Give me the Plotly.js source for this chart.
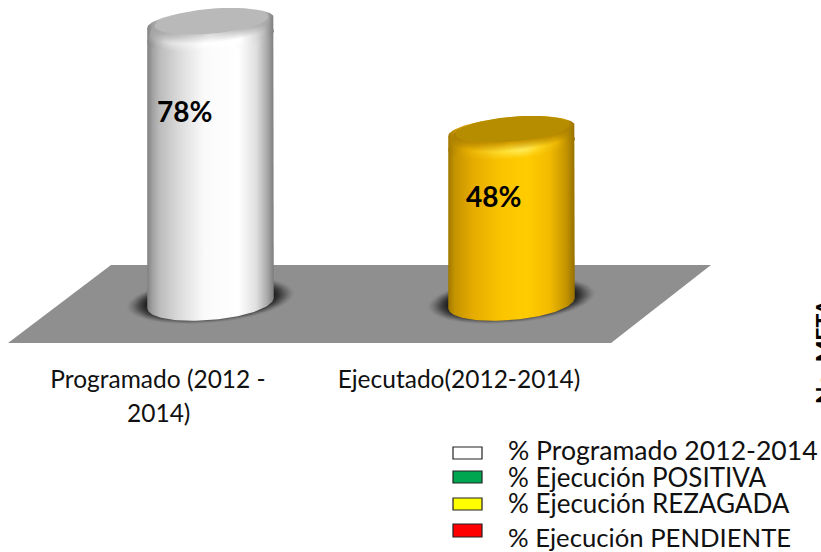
<!DOCTYPE html>
<html><head><meta charset="utf-8">
<script src="https://cdn.plot.ly/plotly-3.0.1.min.js"></script>
<style>html,body{margin:0;padding:0;background:#fff;overflow:hidden}#c{width:821px;height:552px}</style>
</head><body><div id="c"></div>
<script>
const categories = ["Programado (2012 -", "Ejecutado(2012-2014)"];
const categoryWrap = ["2014)", ""];
const percentValues = [78, 48];
const legendLabels = ["% Programado 2012-2014", "% Ejecución POSITIVA", "% Ejecución REZAGADA", "% Ejecución PENDIENTE"];
const legendColors = ["#ffffff", "#00a650", "#ffff00", "#ff0000"];
const axisTitle = "No. META";

const W = 821, H = 552, PLOT_B = 362;
const PX_X = 301, X0 = 158, PX_Y = 3.6, Y0 = 303;
const FONT = "Lato, Carlito, Calibri, sans-serif";

const dataX = px => (px - X0) / PX_X;
const dataY = py => (Y0 - py) / PX_Y;

const bodyStops = [
  [[0,"#808080"],[0.04,"#a0a0a0"],[0.1,"#bcbcbc"],[0.26,"#dcdcdc"],[0.45,"#fafafa"],[0.72,"#ffffff"],[0.86,"#e0e0e0"],[0.95,"#a8a8a8"],[1,"#7c7c7c"]],
  [[0,"#a07800"],[0.05,"#c49300"],[0.2,"#e6ac00"],[0.42,"#fbc400"],[0.62,"#ffcc00"],[0.8,"#f3bb00"],[0.93,"#c49500"],[1,"#967000"]]
];
const ringHi = [
  [[0,"#a0a0a0"],[0.15,"#e0e0e0"],[0.45,"#ffffff"],[0.75,"#ffffff"],[0.92,"#cccccc"],[1,"#8c8c8c"]],
  [[0,"#b08400"],[0.15,"#ecb200"],[0.42,"#ffdf30"],[0.6,"#ffee60"],[0.72,"#ffd820"],[0.88,"#ecb400"],[1,"#a07a00"]]
];
const ringLo = [
  [[0,"#a4a4a4"],[0.5,"#dcdcdc"],[1,"#a8a8a8"]],
  [[0,"#ad8200"],[0.5,"#d8a000"],[1,"#ad8200"]]
];
const capColors = ["#b9b9b9", "#b78d00"];

const TILT = 5 * Math.PI / 180;
function ellipsePts(cx, cy, a, b, t0, t1, n) {
  const xs = [], ys = [];
  for (let i = 0; i <= n; i++) {
    const t = t0 + (t1 - t0) * i / n;
    const ex = a * Math.cos(t), ey = b * Math.sin(t);
    xs.push(cx + ex * Math.cos(TILT) + ey * Math.sin(TILT));
    ys.push(cy - ex * Math.sin(TILT) + ey * Math.cos(TILT));
  }
  return [xs, ys];
}
function poly(pts, style) {
  return Object.assign({
    type: "scatter", mode: "lines", fill: "toself", line: {width: 0},
    x: pts[0].map(dataX), y: pts[1].map(dataY),
    hoverinfo: "skip", showlegend: false
  }, style);
}
const hex = c => [1,3,5].map(i => parseInt(c.substr(i,2),16));
function sample(stops, p) {
  for (let i = 1; i < stops.length; i++) if (p <= stops[i][0]) {
    const q = (p - stops[i-1][0]) / (stops[i][0] - stops[i-1][0]);
    const A = hex(stops[i-1][1]), B = hex(stops[i][1]);
    return A.map((v,k) => v + (B[k]-v)*q);
  }
  return hex(stops[stops.length-1][1]);
}
function blend(s1, s2, q) {
  const out = [];
  for (let i = 0; i <= 16; i++) {
    const p = i/16, A = sample(s1,p), B = sample(s2,p);
    out.push([p, "rgb(" + A.map((v,k)=>Math.round(v+(B[k]-v)*q)).join(",") + ")"]);
  }
  return out;
}
const hgrad = cs => ({fillgradient: {type: "horizontal", colorscale: cs}, fillcolor: "rgba(0,0,0,0)"});

const traces = [];
const CX_OFF = 52.5, A = 63.5;
percentValues.forEach((v, i) => {
  const cx = X0 + PX_X * i + CX_OFF;
  const topY = Y0 - v * PX_Y;
  const S = 18;
  for (let k = 0; k < S; k++) {
    const f = k / (S - 1);
    const e = ellipsePts(cx, Y0 - 3, 84 - 20 * f, 23 - 6 * f, 0, 2*Math.PI, 60);
    traces.push(poly(e, {fillcolor: "rgba(10,10,10," + (0.02 + 0.14 * f).toFixed(3) + ")"}));
  }
  const low = ellipsePts(cx, Y0, A, 17, Math.PI, 0, 60);
  const up = ellipsePts(cx, topY + 0.5, A, 13.5, 0, -Math.PI, 60);
  traces.push(poly([low[0].concat(up[0]), low[1].concat(up[1])], hgrad(bodyStops[i])));
  const N = 18;
  for (let k = 0; k < N; k++) {
    const t = k / (N - 1);
    const cs = t < 0.5 ? blend(bodyStops[i], ringHi[i], t / 0.5) : blend(ringHi[i], ringLo[i], (t - 0.5) / 0.5);
    const e = ellipsePts(cx, topY + 14 * (1 - t) + 0.5, A - 5 * t, 15 - 2.5 * t, 0, 2*Math.PI, 60);
    traces.push(poly(e, hgrad(cs)));
  }
  traces.push(poly(ellipsePts(cx + 1, topY - 1, A - 6.5, 12.5, 0, 2*Math.PI, 60), {fillcolor: capColors[i]}));
});

const layout = {
  width: W, height: H, autosize: false,
  margin: {l: 0, r: 0, t: 0, b: H - PLOT_B, pad: 0},
  paper_bgcolor: "#fff", plot_bgcolor: "rgba(0,0,0,0)",
  showlegend: false,
  xaxis: {
    range: [dataX(0), dataX(W)], fixedrange: true, showgrid: false, zeroline: false, showline: false,
    tickmode: "array", tickvals: [0, 1], ticktext: categories, ticks: "", ticklen: 0,
    tickfont: {family: FONT, size: 24.5, color: "#111"}
  },
  yaxis: {range: [dataY(PLOT_B), dataY(0)], fixedrange: true, visible: false},
  shapes: [], annotations: []
};
const py = p => 1 - p / PLOT_B;
const px = p => p / W;
layout.shapes.push({type: "path", layer: "below", xref: "x", yref: "y", line: {width: 0}, fillcolor: "#8f8f8f",
  path: "M" + [[8,343],[111,265],[711,265],[611,343]].map(p => dataX(p[0]) + "," + dataY(p[1])).join("L") + "Z"});

const labelOffX = [26, 34], labelRow = [111, 196];
percentValues.forEach((v, i) => layout.annotations.push({
  xref: "x", yref: "y", x: dataX(X0 + PX_X * i + labelOffX[i]), y: dataY(labelRow[i]), showarrow: false,
  xanchor: "center", yanchor: "middle",
  text: "<b>" + v + "%</b>", font: {family: FONT, size: 28, color: "#000"}
}));
categoryWrap.forEach((t, i) => { if (t) layout.annotations.push({
  xref: "x", yref: "paper", x: i + 0.003, y: py(412.5), showarrow: false, text: t, xanchor: "center", yanchor: "middle",
  font: {family: FONT, size: 24.5, color: "#111"}
}); });
const rowText = [450, 477, 503, 537], rowBox = [[447,459],[471,483],[498,510],[524,537]], legSize = [26.6, 26, 26, 25.7];
legendLabels.forEach((t, i) => {
  layout.shapes.push({type: "rect", xref: "paper", yref: "paper", x0: px(453), x1: px(482),
    y0: py(rowBox[i][1]), y1: py(rowBox[i][0]), fillcolor: legendColors[i], line: {color: "#222", width: 1.2}});
  layout.annotations.push({xref: "paper", yref: "paper", x: px(506), y: py(rowText[i]), xanchor: "left", yanchor: "middle",
    showarrow: false, text: t, font: {family: FONT, size: legSize[i], color: "#111"}});
});
layout.annotations.push({xref: "paper", yref: "paper", x: px(824), y: py(351), showarrow: false, textangle: -90,
  xanchor: "center", yanchor: "middle",
  text: "<b>" + axisTitle + "</b>", font: {family: FONT, size: 23, color: "#000"}});

Plotly.newPlot("c", traces, layout, {displayModeBar: false, staticPlot: true});
</script></body></html>
